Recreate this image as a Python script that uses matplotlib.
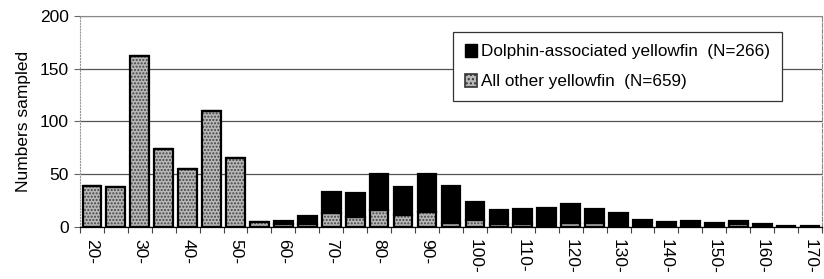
import matplotlib
matplotlib.use("Agg")
import matplotlib.pyplot as plt
from matplotlib.patches import Patch
import numpy as np

plt.rcParams['font.family'] = ['Liberation Sans', 'DejaVu Sans']

categories = list(range(20, 175, 5))
other = [39, 38, 162, 74, 55, 110, 65, 5, 3, 3, 13, 9, 16, 11, 14, 4, 7, 3, 3, 0,
         4, 4, 0, 0, 0, 0, 0, 3, 0, 0, 0]
dolphin = [0, 0, 0, 0, 0, 0, 0, 0, 3, 7, 20, 23, 34, 27, 36, 35, 17, 13, 14, 18,
           18, 13, 13, 7, 5, 6, 4, 3, 3, 1, 1]
tick_labels = [f"{c}-" for c in categories]
legend_labels = ["Dolphin-associated yellowfin  (N=266)", "All other yellowfin  (N=659)"]

fig = plt.figure(figsize=(8.24, 2.79), dpi=100)
ax = fig.add_axes([0.097, 0.1864, 0.9006, 0.7563])

x = np.arange(len(categories))
w = 0.78
# other: textured gray
ax.bar(x, other, width=w, color='#b8b8b8', hatch='.....', edgecolor='#444444', linewidth=0, zorder=3)
ax.bar(x, other, width=w, facecolor='none', edgecolor='black', linewidth=1.6, zorder=4)
ax.bar(x, dolphin, bottom=other, width=w, color='black', edgecolor='black', linewidth=1.6, zorder=4)

ax.set_xlim(-0.5, len(categories) - 0.5)
ax.set_ylim(0, 200)
ax.set_yticks([0, 50, 100, 150, 200])
ax.tick_params(axis='y', labelsize=12.5, length=4, width=0.8, color='#666666', pad=4)
ax.yaxis.grid(True, color='#555555', linewidth=0.9, zorder=0)
ax.set_axisbelow(True)

ax.set_xticks(x[::2])
ax.set_xticklabels(tick_labels[::2], rotation=-90, fontsize=12.5)
ax.tick_params(axis='x', length=0, pad=9)
ax.set_xticks(np.arange(-0.5, len(categories), 1), minor=True)
ax.tick_params(axis='x', which='minor', length=4, width=0.8, color='#444444')

for s in ['top', 'right']:
    ax.spines[s].set_color('#888888')
    ax.spines[s].set_linewidth(0.8)
ax.spines['right'].set_linestyle('--')
ax.spines['left'].set_color('#999999')
ax.spines['left'].set_linestyle(':')
ax.spines['left'].set_linewidth(0.8)
ax.spines['bottom'].set_color('black')
ax.spines['bottom'].set_linewidth(0.9)

ax.set_ylabel("Numbers sampled", fontsize=12.5, labelpad=6)

handles = [Patch(facecolor='black', edgecolor='black'),
           Patch(facecolor='#b8b8b8', edgecolor='#333333', hatch='....', linewidth=1.2)]
leg = ax.legend(handles, legend_labels, loc='upper left', bbox_to_anchor=(0.503, 0.925),
                fontsize=12.3, frameon=True, fancybox=False, framealpha=1,
                edgecolor='#333333', handlelength=0.7, handleheight=0.8,
                handletextpad=0.25, labelspacing=0.85, borderpad=0.7, borderaxespad=0)
leg.get_frame().set_linewidth(0.9)
leg.set_zorder(10)

fig.savefig("out.png", dpi=100)
